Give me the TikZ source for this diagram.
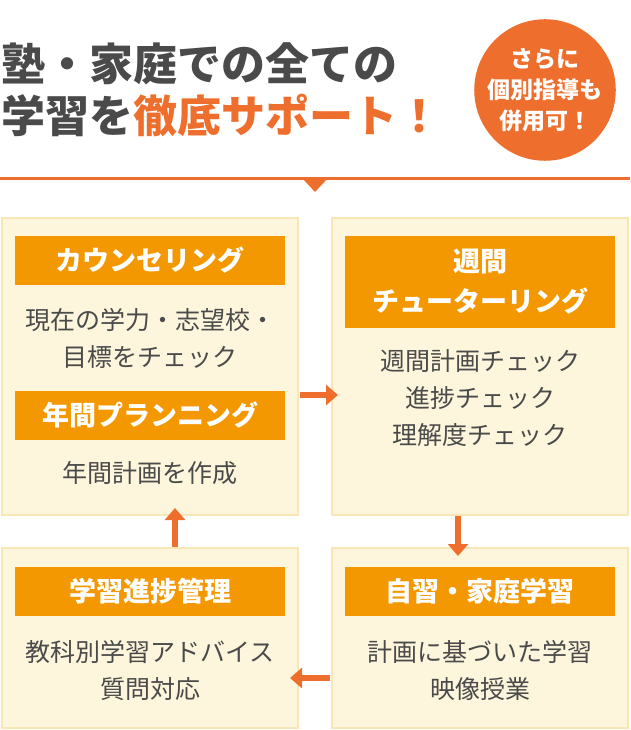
\documentclass[tikz,border=0pt]{standalone}
\usepackage{fontspec}
\setmainfont{Noto Sans CJK JP}
\usetikzlibrary{positioning,arrows.meta}
\definecolor{barorange}{HTML}{F39800}
\definecolor{deeporange}{HTML}{EE6F2D}
\definecolor{cream}{HTML}{FEF6DC}
\definecolor{creamline}{HTML}{F8E6B4}
\definecolor{titlegray}{HTML}{4A4A4A}
\begin{document}
\begin{tikzpicture}
[x=1pt,y=-1pt,
panel/.style={draw=creamline,line width=1.5pt,fill=cream},
headbar/.style={fill=barorange,text=white,font=\fontsize{27}{32}\selectfont\bfseries,
  minimum width=270pt,align=center,inner sep=0pt},
bodytext/.style={text=titlegray,font=\fontsize{25}{37}\selectfont,align=center},
flow/.style={-{Triangle[length=12pt,width=20pt]},line width=6pt,draw=deeporange}]
  \useasboundingbox (0,0) rectangle (630,730);
  % title
  \node[anchor=west,text=titlegray,font=\fontsize{44}{52}\selectfont\bfseries,align=left] (title) at (-2,90)
    {塾・家庭での全ての\\学習を\textcolor{deeporange}{徹底サポート！}};
  \node[circle,fill=deeporange,minimum size=140pt,inner sep=0pt,text=white,align=center,
    font=\fontsize{23}{31}\selectfont\bfseries] (badge) at (545,90) {さらに\\個別指導も\\併用可！};
  % divider
  \draw[deeporange,line width=3pt] (0,179) -- (630,179);
  \fill[deeporange] (302,178) -- (328,178) -- (315,192) -- cycle;
  % panels
  \draw[panel] (2,218) rectangle (298,515);
  \draw[panel] (332,218) rectangle (628,515);
  \draw[panel] (2,548) rectangle (298,728);
  \draw[panel] (332,548) rectangle (628,728);
  % top left
  \node[headbar,minimum height=49pt] (counsel) at (150,260) {カウンセリング};
  \node[bodytext] (counseltxt) at (150,338) {現在の学力・志望校・\\目標をチェック};
  \node[headbar,minimum height=49pt] (plan) at (150,415) {年間プランニング};
  \node[bodytext] (plantxt) at (150,473) {年間計画を作成};
  % top right
  \node[headbar,minimum height=92pt,font=\fontsize{27}{40}\selectfont\bfseries] (tutor) at (480,282) {週間\\チューターリング};
  \node[bodytext] (tutortxt) at (480,398) {週間計画チェック\\進捗チェック\\理解度チェック};
  % bottom right
  \node[headbar,minimum height=49pt] (self) at (480,591) {自習・家庭学習};
  \node[bodytext] (selftxt) at (480,670) {計画に基づいた学習\\映像授業};
  % bottom left
  \node[headbar,minimum height=49pt] (progress) at (150,591) {学習進捗管理};
  \node[bodytext] (progresstxt) at (150,670) {教科別学習アドバイス\\質問対応};
  % arrows
  \draw[flow] (300,395) -- (338,395);
  \draw[flow] (458,516) -- (458,556);
  \draw[flow] (330,678) -- (290,678);
  \draw[flow] (175,547) -- (175,508);
\end{tikzpicture}
\end{document}
